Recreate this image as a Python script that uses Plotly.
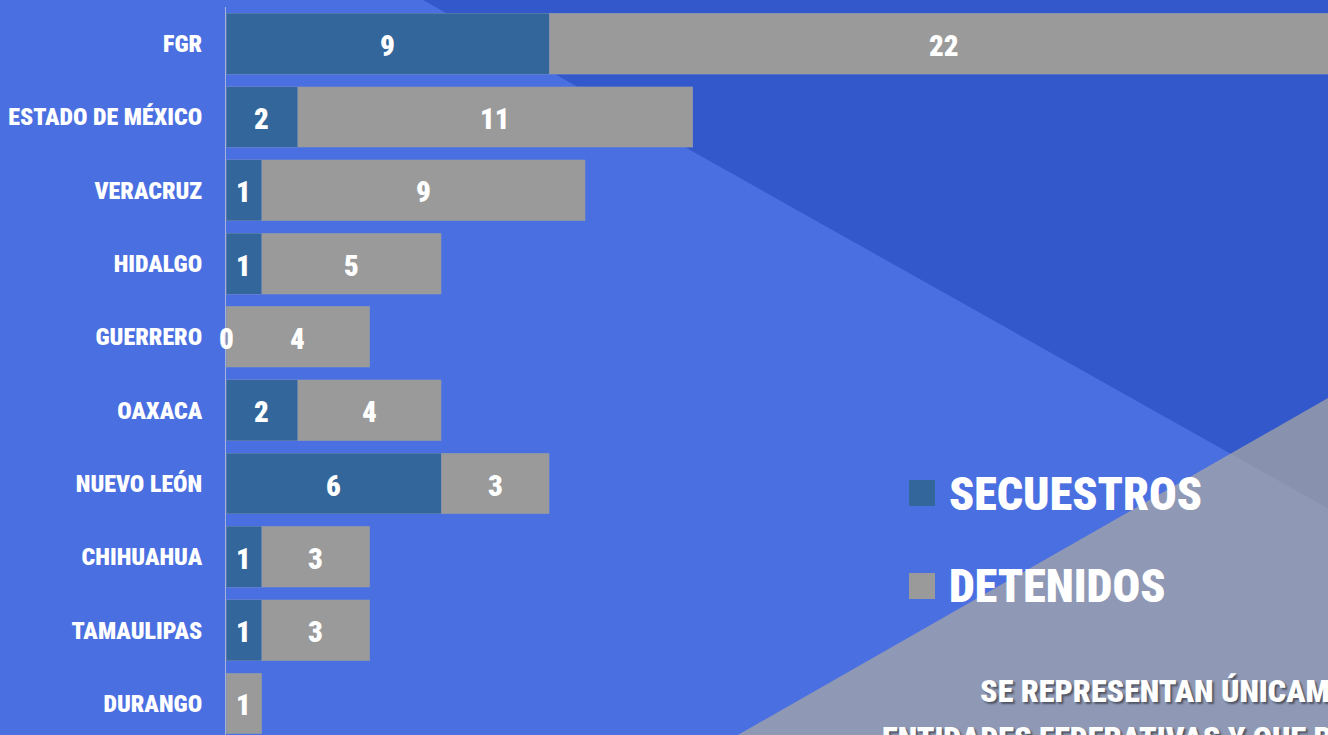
import plotly.graph_objects as go

# ---- data ----
categories = ["FGR", "ESTADO DE MÉXICO", "VERACRUZ", "HIDALGO", "GUERRERO",
              "OAXACA", "NUEVO LEÓN", "CHIHUAHUA", "TAMAULIPAS", "DURANGO"]
secuestros = [9, 2, 1, 1, 0, 2, 6, 1, 1, None]
detenidos = [22, 11, 9, 5, 4, 4, 3, 3, 3, 1]
series_names = ["SECUESTROS", "DETENIDOS"]
note_lines = ["SE REPRESENTAN ÚNICAMENTE LAS", "ENTIDADES FEDERATIVAS Y QUE REGISTRARON"]

# ---- style ----
W, H = 1328, 735
ML, MT = 226, 7
C_BG = "#4A6FE1"
C_DARK = "#3358CC"
C_GRAYTRI = "rgba(172,171,162,0.70)"
C_SEC = "#33669A"
C_DET = "#9A9A9A"
FONT = "'Roboto Condensed', 'Open Sans', 'DejaVu Sans Condensed', sans-serif"
WT = 900

def px(x):
    return (x - ML) / (W - ML)

def py(y):
    return (H - y) / (H - MT)

def path(points):
    return "M " + " L ".join(f"{px(x):.5f},{py(y):.5f}" for x, y in points) + " Z"

fig = go.Figure()

edge = dict(width=0.8, color="rgba(120,140,190,0.6)")
fig.add_trace(go.Bar(y=categories, x=secuestros, orientation="h", name=series_names[0],
                     marker=dict(color=C_SEC, line=edge), hoverinfo="x+y"))
fig.add_trace(go.Bar(y=categories, x=detenidos, orientation="h", name=series_names[1],
                     marker=dict(color=C_DET, line=edge), hoverinfo="x+y"))

annotations = []
# value labels centred on each segment
numfont = dict(family=FONT, size=29, color="white", weight=WT)
for c, s, d in zip(categories, secuestros, detenidos):
    s0 = s if s is not None else 0
    if s is not None:
        annotations.append(dict(x=s0 / 2, y=c, xref="x", yref="y", text=str(s),
                                showarrow=False, yshift=-2, font=numfont))
    annotations.append(dict(x=s0 + d / 2, y=c, xref="x", yref="y", text=str(d),
                            showarrow=False, yshift=-2, font=numfont))

shapes = [
    dict(type="path", xref="paper", yref="paper", layer="below", line=dict(width=0),
         fillcolor=C_DARK, path=path([(423, 0), (1400, 0), (1400, (1400 - 423) / 1.78)])),
    dict(type="path", xref="paper", yref="paper", layer="below", line=dict(width=0),
         fillcolor=C_GRAYTRI, path=path([(624, 800), (1400, 357), (1400, 800)])),
    dict(type="rect", xref="paper", yref="paper", line=dict(width=0), fillcolor=C_SEC,
         x0=px(909), x1=px(935), y0=py(506), y1=py(480)),
    dict(type="rect", xref="paper", yref="paper", line=dict(width=0), fillcolor=C_DET,
         x0=px(909), x1=px(935), y0=py(599), y1=py(573)),
]

big = dict(family=FONT, size=46, color="white", weight=WT)
note = dict(family=FONT, size=32, color="white", weight=WT,
            shadow="2px 2px 2px rgba(0,0,0,0.45)")
annotations += [
    dict(text=series_names[0], xref="paper", yref="paper", x=px(947), y=py(494),
         xanchor="left", yanchor="middle", showarrow=False, font=big),
    dict(text=series_names[1], xref="paper", yref="paper", x=px(947), y=py(586),
         xanchor="left", yanchor="middle", showarrow=False, font=big),
    dict(text=note_lines[0], xref="paper", yref="paper", x=px(978), y=py(691),
         xanchor="left", yanchor="middle", showarrow=False, font=note),
    dict(text=note_lines[1], xref="paper", yref="paper", x=px(880), y=py(738),
         xanchor="left", yanchor="middle", showarrow=False, font=note),
]

fig.update_layout(
    width=W, height=H,
    margin=dict(l=ML, r=0, t=MT, b=0, pad=0),
    paper_bgcolor=C_BG, plot_bgcolor="rgba(0,0,0,0)",
    barmode="stack", bargap=0.17, showlegend=False,
    shapes=shapes, annotations=annotations,
    xaxis=dict(visible=False, range=[0, (W - ML) / 35.9], automargin=False),
    yaxis=dict(range=[9.43, -0.5], showline=True, linecolor="#A7B2D8", linewidth=1,
               showgrid=False, zeroline=False, ticks="", ticklabelstandoff=18,
               automargin=False,
               tickfont=dict(family=FONT, size=24, color="white", weight=WT)),
    font=dict(family=FONT),
)

fig.write_html("out.html", config={"displayModeBar": False},
               post_script="document.body.style.margin='0';document.body.style.overflow='hidden';")
